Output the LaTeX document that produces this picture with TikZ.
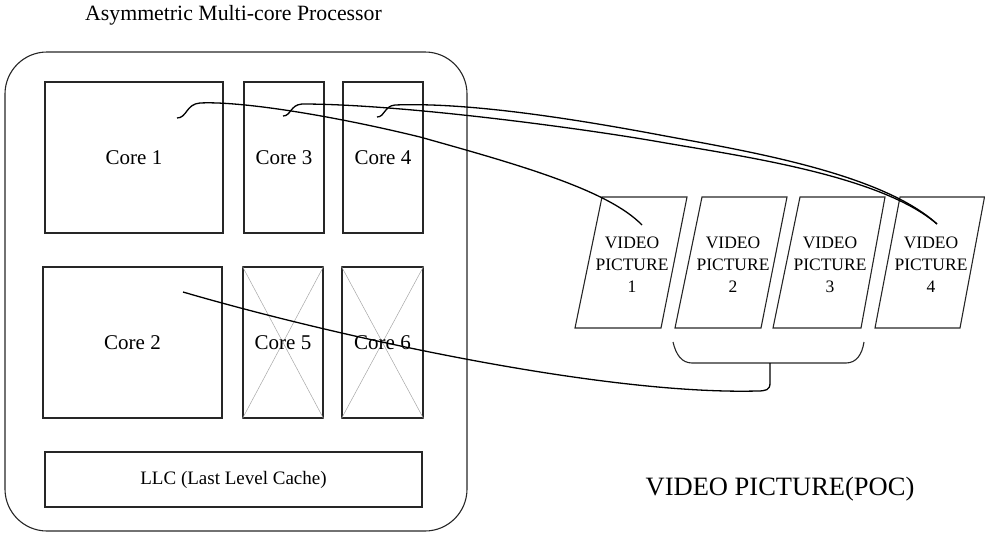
\documentclass[tikz,border=0pt]{standalone}
\usepackage{fontspec}
\setmainfont{Liberation Serif}
\begin{document}
\begin{tikzpicture}[x=1pt,y=-1pt,
  boxline/.style={draw=black!85,line width=1.1pt},
  corebox/.style={boxline,inner sep=0pt,font=\fontsize{21}{23}\selectfont},
  corelabel/.style={font=\fontsize{21}{23}\selectfont},
  xline/.style={draw=black!35,line width=0.5pt},
  vptext/.style={align=center,font=\fontsize{17.5}{22}\selectfont,inner sep=0pt},
  wire/.style={draw=black,line width=1.3pt}]
\useasboundingbox (0,0) rectangle (985,533);

% title
\node[font=\fontsize{21.8}{24}\selectfont] (title) at (233.5,15) {Asymmetric Multi-core Processor};

% outer processor
\draw[boxline,rounded corners=42pt] (5,52) rectangle (467,531);

% cores
\node[corebox,minimum width=178pt,minimum height=151pt] (c1) at (134,157.5) {Core 1};
\node[corebox,minimum width=80pt,minimum height=151pt] (c3) at (284,157.5) {Core 3};
\node[corebox,minimum width=80pt,minimum height=151pt] (c4) at (383,157.5) {Core 4};
\node[corebox,minimum width=179pt,minimum height=151pt] (c2) at (132.5,342.5) {Core 2};
\node[corebox,minimum width=80pt,minimum height=151pt] (c5) at (283,342.5) {};
\node[corebox,minimum width=81pt,minimum height=151pt] (c6) at (382.5,342.5) {};
\draw[xline] (c5.north west) -- (c5.south east) (c5.north east) -- (c5.south west);
\draw[xline] (c6.north west) -- (c6.south east) (c6.north east) -- (c6.south west);
\node[corelabel] (c5t) at (c5) {Core 5};
\node[corelabel] (c6t) at (c6) {Core 6};
\node[corebox,minimum width=377pt,minimum height=55pt,font=\fontsize{19}{21}\selectfont] (llc) at (233.5,479.5) {LLC (Last Level Cache)};

% video pictures (parallelograms)
\draw[boxline] (602,197) -- (687,197) -- (661,328) -- (575,328) -- cycle;
\draw[boxline] (702,197) -- (787,197) -- (761,328) -- (675,328) -- cycle;
\draw[boxline] (800,197) -- (885,197) -- (861,328) -- (773,328) -- cycle;
\draw[boxline] (900,197) -- (984.5,197) -- (960,328) -- (875,328) -- cycle;
\node[vptext] (v1) at (632,265) {VIDEO\\PICTURE\\1};
\node[vptext] (v2) at (733,265) {VIDEO\\PICTURE\\2};
\node[vptext] (v3) at (830,265) {VIDEO\\PICTURE\\3};
\node[vptext] (v4) at (931,265) {VIDEO\\PICTURE\\4};

\node[font=\fontsize{26.5}{29}\selectfont] (poc) at (780,489) {VIDEO PICTURE(POC)};

% bracket under pictures 2-3
\coordinate (brl) at (673,342);
\coordinate (brr) at (864,342);
\coordinate (brm) at (770,363);
\draw[boxline] (brl) .. controls (676,355) and (682,363) .. (692,363) -- (846,363)
  .. controls (856,363) and (862,355) .. (brr);

% connector endpoints
\coordinate (s1) at (177,118);
\coordinate (s3) at (283,116);
\coordinate (s4) at (377,117);
\coordinate (s2) at (183,292);
\coordinate (e1) at (642,225);
\coordinate (e4) at (937,224);
\coordinate (e2) at (757,391);

% connectors
\draw[wire] (s1) .. controls (187,118) and (186,104) .. (200,103)
  .. controls (240,101) and (330,115) .. (420,137)
  .. controls (520,165) and (608,190) .. (e1);
\draw[wire] (s3) .. controls (291,116) and (290,105) .. (302,104)
  .. controls (400,104) and (580,128) .. (660,142)
  .. controls (740,156) and (880,175) .. (e4);
\draw[wire] (s4) .. controls (385,117) and (384,106) .. (395,105)
  .. controls (470,102) and (580,120) .. (660,135)
  .. controls (740,150) and (880,172) .. (e4);
\draw[wire] (s2) .. controls (330,335) and (600,395) .. (e2)
  .. controls (766,391) and (770,390) .. (770,383) -- (brm);
\end{tikzpicture}
\end{document}
